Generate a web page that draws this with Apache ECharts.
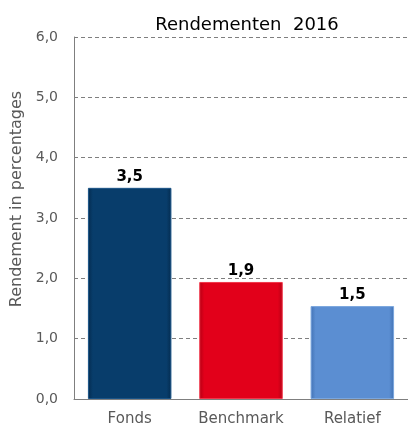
<!DOCTYPE html>
<html>
<head>
<meta charset="utf-8">
<script src="https://cdn.jsdelivr.net/npm/echarts@6/dist/echarts.min.js"></script>
<style>
  html, body { margin: 0; padding: 0; background: #fff; }
  #chart { width: 408px; height: 427px; }
</style>
</head>
<body>
<div id="chart"></div>
<script>
  var categories = ['Fonds', 'Benchmark', 'Relatief'];
  var values = [3.50, 1.94, 1.54];
  var barColors = [
    ['#1a5487', '#083d6b', '#042c50'],
    ['#f2364a', '#e2001a', '#b50014'],
    ['#7aa6de', '#5b8ed2', '#4272b4']
  ];
  var yTicks = [0, 1, 2, 3, 4, 5, 6];

  function bevel(c) {
    // schuine rand links/rechts voor een 3D-achtig effect
    return new echarts.graphic.LinearGradient(0, 0, 1, 0, [
      { offset: 0, color: c[2] },
      { offset: 0.06, color: c[1] },
      { offset: 0.94, color: c[1] },
      { offset: 1, color: c[2] }
    ]);
  }

  var data = values.map(function (v, i) {
    return {
      value: v,
      itemStyle: { color: bevel(barColors[i]), borderColor: barColors[i][0], borderWidth: 1 }
    };
  });

  var chart = echarts.init(document.getElementById('chart'));
  chart.setOption({
    animation: false,
    title: {
      text: 'Rendementen  2016',
      left: 242,
      textAlign: 'center',
      top: 11,
      textStyle: { fontFamily: 'DejaVu Sans', fontSize: 18, fontWeight: 'normal', color: '#000' }
    },
    grid: { left: 74, right: 0, top: 37, bottom: 28 },
    xAxis: {
      type: 'category',
      data: categories,
      axisTick: { show: false },
      axisLine: { lineStyle: { color: '#7f7f7f', width: 1 } },
      axisLabel: { fontFamily: 'DejaVu Sans', fontSize: 15, color: '#595959', margin: 13 }
    },
    yAxis: {
      type: 'value',
      min: yTicks[0],
      max: yTicks[yTicks.length - 1],
      interval: 1,
      name: 'Rendement in percentages',
      nameLocation: 'middle',
      nameGap: 44,
      nameTextStyle: { fontFamily: 'DejaVu Sans', fontSize: 16, color: '#595959', padding: [0, 0, 0, 38] },
      axisLine: { show: true, lineStyle: { color: '#7f7f7f', width: 1 } },
      axisTick: { show: false },
      splitLine: { lineStyle: { color: '#7f7f7f', type: [4, 3], width: 1 } },
      axisLabel: {
        fontFamily: 'DejaVu Sans', fontSize: 14, color: '#595959', margin: 16,
        formatter: function (v) { return v.toFixed(1).replace('.', ','); }
      }
    },
    series: [{
      type: 'bar',
      data: data,
      barWidth: '75%',
      label: {
        show: true,
        position: 'top',
        distance: 3,
        fontFamily: 'DejaVu Sans',
        fontSize: 15,
        fontWeight: 'bold',
        color: '#000',
        formatter: function (p) { return p.value.toFixed(1).replace('.', ','); }
      }
    }]
  });
</script>
</body>
</html>
